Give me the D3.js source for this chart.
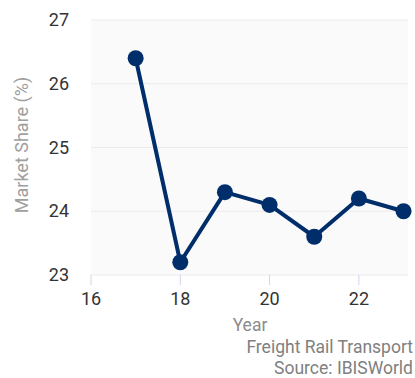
<!DOCTYPE html>
<html><head><meta charset="utf-8">
<script src="https://cdn.jsdelivr.net/npm/d3@7"></script>
<style>body{margin:0;background:#fff;}svg{display:block;font-family:Roboto,"Noto Sans",sans-serif;}</style>
</head><body>
<svg id="c" width="415" height="378"></svg>
<script>
const years = [17, 18, 19, 20, 21, 22, 23];
const share = [26.4, 23.2, 24.3, 24.1, 23.6, 24.2, 24.0];
const yTicks = [23, 24, 25, 26, 27];
const xTicks = [16, 18, 20, 22];

const svg = d3.select("#c");
const L = 91, R = 408, T = 20, B = 275;
const x = d3.scaleLinear().domain([16, 23.1]).range([L, R]);
const y = d3.scaleLinear().domain([23, 27]).range([B, T]);

svg.append("rect").attr("x", L).attr("y", T).attr("width", R - L).attr("height", B - T).attr("fill", "#fafafa");

svg.append("g").selectAll("line").data(yTicks).join("line")
  .attr("x1", L).attr("x2", R).attr("y1", d => y(d)).attr("y2", d => y(d))
  .attr("stroke", "#ebebeb").attr("stroke-width", 1);

svg.append("g").selectAll("text").data(yTicks).join("text")
  .attr("x", 69).attr("y", d => y(d) + 6).attr("text-anchor", "end")
  .attr("font-size", 18).attr("fill", "#333").text(d => d);

const xa = svg.append("g");
xa.selectAll("line").data(xTicks).join("line")
  .attr("x1", d => x(d)).attr("x2", d => x(d)).attr("y1", B).attr("y2", B + 10)
  .attr("stroke", "#ccd6eb").attr("stroke-width", 1);
xa.selectAll("text").data(xTicks).join("text")
  .attr("x", d => x(d)).attr("y", 305).attr("text-anchor", "middle")
  .attr("font-size", 18).attr("fill", "#333").text(d => d);

const pts = years.map((d, i) => [d, share[i]]);
svg.append("path").datum(pts)
  .attr("d", d3.line().x(d => x(d[0])).y(d => y(d[1])))
  .attr("fill", "none").attr("stroke", "#002e6b").attr("stroke-width", 4).attr("stroke-linejoin", "round");
svg.append("g").selectAll("circle").data(pts).join("circle")
  .attr("cx", d => x(d[0])).attr("cy", d => y(d[1])).attr("r", 8).attr("fill", "#002e6b");

svg.append("text").attr("transform", `translate(28,145) rotate(-90)`)
  .attr("text-anchor", "middle").attr("font-size", 18).attr("fill", "#a0a0a0").text("Market Share (%)");
svg.append("text").attr("x", 250).attr("y", 331).attr("text-anchor", "middle")
  .attr("font-size", 17.5).attr("fill", "#8c8c8c").text("Year");
svg.append("text").attr("x", 413).attr("y", 353).attr("text-anchor", "end")
  .attr("font-size", 17.5).attr("fill", "#808080").text("Freight Rail Transport");
svg.append("text").attr("x", 413).attr("y", 374).attr("text-anchor", "end")
  .attr("font-size", 17.5).attr("fill", "#808080").text("Source: IBISWorld");
</script>
</body></html>
